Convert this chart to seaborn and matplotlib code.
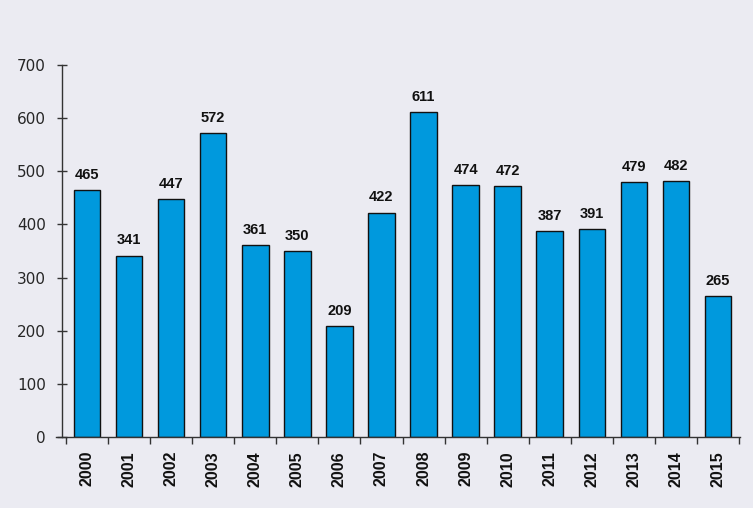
import matplotlib
matplotlib.use("Agg")
import matplotlib.pyplot as plt
from matplotlib import font_manager
import seaborn as sns
import pandas as pd

years = ["2000", "2001", "2002", "2003", "2004", "2005", "2006", "2007",
         "2008", "2009", "2010", "2011", "2012", "2013", "2014", "2015"]
values = [465, 341, 447, 572, 361, 350, 209, 422,
          611, 474, 472, 387, 391, 479, 482, 265]
y_ticks = [0, 100, 200, 300, 400, 500, 600, 700]

names = {f.name for f in font_manager.fontManager.ttflist}
narrow = "Liberation Sans Narrow" if "Liberation Sans Narrow" in names else "Liberation Sans"
val_size = 12 if narrow == "Liberation Sans Narrow" else 10.5

sns.set_theme(style="white")
plt.rcParams['font.family'] = ['DejaVu Sans']

bg = "#ebebf2"
fig = plt.figure(figsize=(7.53, 5.08), dpi=100, facecolor=bg)
ax = fig.add_axes([56/753, 71/508, (740-56)/753, (437-65)/508])
ax.set_facecolor("none")

df = pd.DataFrame({"year": years, "value": values})
sns.barplot(data=df, x="year", y="value", ax=ax, color="#0099dd",
            saturation=1, width=0.63, edgecolor="#111111", linewidth=1.0)

ax.set_xlim(-0.5 - 10/42, 15.5 + 1/42)
ax.set_ylim(0, 700)
ax.set_yticks(y_ticks)
ax.set_yticklabels([str(t) for t in y_ticks], fontsize=14.5, family="Noto Sans",
                   color="#222222")
ax.spines["left"].set_position(("data", -0.5 - 4/42))
ax.spines["left"].set_bounds(0, 700)
for s in ["top", "right"]:
    ax.spines[s].set_visible(False)
for s in ["left", "bottom"]:
    ax.spines[s].set_color("#333333")
    ax.spines[s].set_linewidth(1.0)

# x ticks at category boundaries, labels at centres
ax.set_xticks([i + 0.5 for i in range(-1, len(years))], minor=False)
ax.set_xticklabels([])
ax.set_xticks(range(len(years)), minor=True)
ax.set_xticklabels(years, minor=True, rotation=90, fontsize=11.5,
                   fontweight="bold", family="Liberation Sans", color="#111111")
ax.tick_params(axis="x", which="major", direction="out", length=5, width=1, color="#333333", bottom=True)
ax.tick_params(axis="x", which="minor", length=0, pad=10)
ax.tick_params(axis="y", direction="inout", length=7, width=1, color="#333333", left=True, pad=8)
ax.set_xlabel("")
ax.set_ylabel("")

for c in ax.containers:
    ax.bar_label(c, labels=[str(v) for v in values], padding=6, fontsize=val_size,
                 fontweight="bold", family=narrow, color="#111111")

fig.savefig("out.png", dpi=100, facecolor=bg)
